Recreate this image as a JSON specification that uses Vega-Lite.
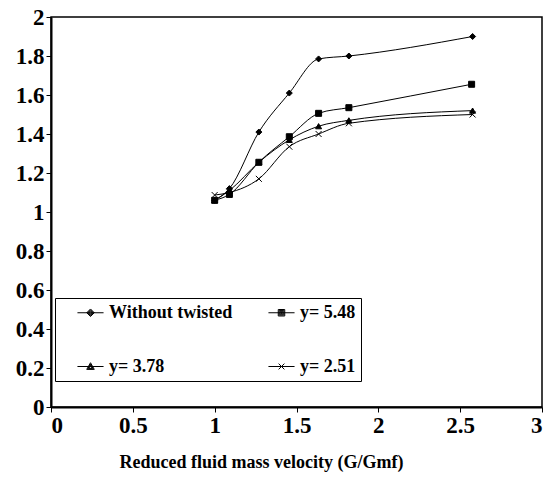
{
  "$schema": "https://vega.github.io/schema/vega-lite/v6.json",
  "width": 491,
  "height": 390,
  "autosize": {"type": "none"},
  "padding": {"left": 51, "top": 17, "right": 17, "bottom": 75},
  "background": "white",
  "config": {
    "view": {"stroke": "black", "strokeWidth": 1.5},
    "font": "Liberation Serif",
    "axis": {
      "grid": false,
      "domainColor": "black",
      "domainWidth": 2,
      "tickColor": "black",
      "tickSize": 5,
      "tickWidth": 1,
      "labelFont": "Liberation Serif",
      "labelFontWeight": "bold",
      "labelFontSize": 23,
      "labelColor": "black",
      "titleFont": "Liberation Serif",
      "titleFontWeight": "bold",
      "titleFontSize": 18,
      "titleColor": "black"
    }
  },
  "data": {
    "values": [
      {"s": "Without twisted", "x": 1.0, "y": 1.06},
      {"s": "Without twisted", "x": 1.09, "y": 1.12},
      {"s": "Without twisted", "x": 1.27, "y": 1.41},
      {"s": "Without twisted", "x": 1.456, "y": 1.61},
      {"s": "Without twisted", "x": 1.635, "y": 1.785},
      {"s": "Without twisted", "x": 1.82, "y": 1.80},
      {"s": "Without twisted", "x": 2.576, "y": 1.90},
      {"s": "y= 5.48", "x": 1.0, "y": 1.06},
      {"s": "y= 5.48", "x": 1.09, "y": 1.09},
      {"s": "y= 5.48", "x": 1.27, "y": 1.255},
      {"s": "y= 5.48", "x": 1.456, "y": 1.386},
      {"s": "y= 5.48", "x": 1.635, "y": 1.506},
      {"s": "y= 5.48", "x": 1.82, "y": 1.535},
      {"s": "y= 5.48", "x": 2.57, "y": 1.655},
      {"s": "y= 3.78", "x": 1.0, "y": 1.06},
      {"s": "y= 3.78", "x": 1.09, "y": 1.11},
      {"s": "y= 3.78", "x": 1.27, "y": 1.255},
      {"s": "y= 3.78", "x": 1.456, "y": 1.37},
      {"s": "y= 3.78", "x": 1.635, "y": 1.44},
      {"s": "y= 3.78", "x": 1.82, "y": 1.47},
      {"s": "y= 3.78", "x": 2.576, "y": 1.52},
      {"s": "y= 2.51", "x": 1.0, "y": 1.087},
      {"s": "y= 2.51", "x": 1.09, "y": 1.10},
      {"s": "y= 2.51", "x": 1.27, "y": 1.17},
      {"s": "y= 2.51", "x": 1.456, "y": 1.335},
      {"s": "y= 2.51", "x": 1.635, "y": 1.40},
      {"s": "y= 2.51", "x": 1.82, "y": 1.455},
      {"s": "y= 2.51", "x": 2.576, "y": 1.50}
    ]
  },
  "encoding": {
    "x": {
      "field": "x", "type": "quantitative",
      "scale": {"domain": [0, 3], "nice": false},
      "axis": {"values": [0, 0.5, 1, 1.5, 2, 2.5, 3], "format": ".1~f", "title": "Reduced fluid mass velocity (G/Gmf)", "labelPadding": 2, "titlePadding": 16, "titleX": 210, "titleAlign": "center", "titleAnchor": null}
    },
    "y": {
      "field": "y", "type": "quantitative",
      "scale": {"domain": [0, 2], "nice": false},
      "axis": {"values": [0, 0.2, 0.4, 0.6, 0.8, 1, 1.2, 1.4, 1.6, 1.8, 2], "format": ".1~f", "title": null, "labelPadding": 2}
    }
  },
  "layer": [
    {
      "mark": {"type": "line", "interpolate": "monotone", "color": "black", "strokeWidth": 1},
      "encoding": {"detail": {"field": "s", "type": "nominal"}}
    },
    {
      "mark": {"type": "point", "filled": true, "fill": "black", "stroke": "black", "strokeWidth": 1, "opacity": 1, "size": 36},
      "encoding": {
        "shape": {
          "field": "s", "type": "nominal",
          "scale": {
            "domain": ["Without twisted", "y= 5.48", "y= 3.78", "y= 2.51"],
            "range": ["diamond", "square", "triangle-up", "M-1,-1L1,1M-1,1L1,-1"]
          },
          "legend": null
        }
      }
    },
    {
      "mark": {"type": "point", "filled": false, "size": 0, "color": "black", "strokeWidth": 1, "opacity": 1},
      "encoding": {
        "shape": {
          "field": "s", "type": "nominal",
          "scale": {
            "domain": ["Without twisted", "y= 5.48", "y= 3.78", "y= 2.51"],
            "range": [
              "M-1.45,0L1.45,0M0,-0.42L0.42,0L0,0.42L-0.42,0ZM0,-0.32L0.32,0L0,0.32L-0.32,0ZM0,-0.22L0.22,0L0,0.22L-0.22,0ZM0,-0.12L0.12,0L0,0.12L-0.12,0Z",
              "M-1.45,0L1.45,0M-0.36,-0.36L0.36,-0.36L0.36,0.36L-0.36,0.36ZM-0.26,-0.26L0.26,-0.26L0.26,0.26L-0.26,0.26ZM-0.16,-0.16L0.16,-0.16L0.16,0.16L-0.16,0.16ZM-0.06,-0.06L0.06,-0.06L0.06,0.06L-0.06,0.06Z",
              "M-1.45,0L1.45,0M0,-0.42L0.42,0.32L-0.42,0.32ZM0,-0.28L0.3,0.26L-0.3,0.26ZM0,-0.14L0.18,0.2L-0.18,0.2Z",
              "M-1.45,0L1.45,0M-0.32,-0.32L0.32,0.32M-0.32,0.32L0.32,-0.32"
            ]
          },
          "legend": {
            "title": null,
            "orient": "none",
            "legendX": 4,
            "legendY": 281,
            "direction": "horizontal",
            "columns": 2,
            "strokeColor": "black",
            "padding": 5,
            "rowPadding": 35,
            "columnPadding": 18,
            "symbolOffset": 21,
            "symbolSize": 324,
            "symbolStrokeColor": "black",
            "symbolStrokeWidth": 1,
            "symbolOpacity": 1,
            "labelFont": "Liberation Serif",
            "labelFontWeight": "bold",
            "labelFontSize": 18,
            "labelColor": "black",
            "labelOffset": 9,
            "labelLimit": 300
          }
        }
      }
    }
  ],
  "resolve": {"scale": {"shape": "independent"}}
}
